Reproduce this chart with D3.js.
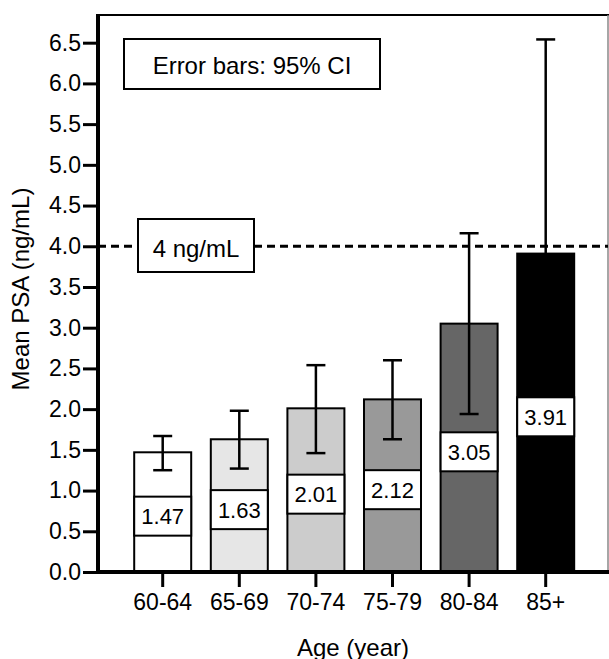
<!DOCTYPE html>
<html>
<head>
<meta charset="utf-8">
<script src="https://cdn.jsdelivr.net/npm/d3@7"></script>
<style>
  body { margin: 0; background: #fff; }
  text { font-family: "Liberation Sans", Arial, sans-serif; fill: #000; }
</style>
</head>
<body>
<script>
// age groups and the mean PSA per group
var categories = ["60-64", "65-69", "70-74", "75-79", "80-84", "85+"];
var means = [1.47, 1.63, 2.01, 2.12, 3.05, 3.91];
var ciLow = [1.25, 1.27, 1.46, 1.63, 1.94, 1.30];
var ciHigh = [1.67, 1.98, 2.54, 2.60, 4.16, 6.54];
var fills = ["#ffffff", "#e6e6e6", "#cccccc", "#999999", "#666666", "#000000"];
var yTicks = [0, 0.5, 1, 1.5, 2, 2.5, 3, 3.5, 4, 4.5, 5, 5.5, 6, 6.5];
var threshold = 4;

var width = 609,
  height = 659,
  plotLeft = 98,
  plotRight = 608,
  plotTop = 15,
  plotBottom = 572;

var svg = d3.select("body").append("svg")
  .attr("width", width)
  .attr("height", height);

var x = d3.scaleBand()
  .domain(categories)
  .range([124.4, 584])
  .paddingInner(0.256)
  .paddingOuter(0.128);

var y = d3.scaleLinear()
  .domain([0, 6.84])
  .range([plotBottom, plotTop]);

var data = categories.map(function(c, i) {
  return { cat: c, mean: means[i], lo: ciLow[i], hi: ciHigh[i], fill: fills[i] };
});

// frame (top + right)
svg.append("line")
  .attr("x1", plotLeft).attr("x2", width)
  .attr("y1", plotTop).attr("y2", plotTop)
  .attr("stroke", "#000").attr("stroke-width", 2);
svg.append("line")
  .attr("x1", plotRight).attr("x2", plotRight)
  .attr("y1", plotTop).attr("y2", plotBottom)
  .attr("stroke", "#888").attr("stroke-width", 1.5);

// bars
svg.selectAll(".bar")
  .data(data)
  .enter().append("rect")
  .attr("class", "bar")
  .attr("x", function(d) { return x(d.cat); })
  .attr("y", function(d) { return y(d.mean); })
  .attr("width", x.bandwidth())
  .attr("height", function(d) { return plotBottom - y(d.mean); })
  .attr("fill", function(d) { return d.fill; })
  .attr("stroke", "#000")
  .attr("stroke-width", 2);

// error bars
var eb = svg.selectAll(".err")
  .data(data)
  .enter().append("g")
  .attr("class", "err")
  .attr("transform", function(d) { return "translate(" + (x(d.cat) + x.bandwidth() / 2) + ",0)"; });

eb.append("line")
  .attr("y1", function(d) { return y(d.lo); })
  .attr("y2", function(d) { return y(d.hi); })
  .attr("stroke", "#000").attr("stroke-width", 2.5);
eb.selectAll(".cap")
  .data(function(d) { return [d.lo, d.hi]; })
  .enter().append("line")
  .attr("x1", -9.5).attr("x2", 9.5)
  .attr("y1", function(v) { return y(v); })
  .attr("y2", function(v) { return y(v); })
  .attr("stroke", "#000").attr("stroke-width", 2.5);

// 4 ng/mL reference line
svg.append("line")
  .attr("x1", plotLeft).attr("x2", plotRight)
  .attr("y1", y(threshold)).attr("y2", y(threshold))
  .attr("stroke", "#000")
  .attr("stroke-width", 3)
  .attr("stroke-dasharray", "8,5");

// value labels inside bars
var lab = svg.selectAll(".lab")
  .data(data)
  .enter().append("g")
  .attr("class", "lab")
  .attr("transform", function(d) { return "translate(" + x(d.cat) + "," + (y(d.mean / 2) + 4) + ")"; });

lab.append("rect")
  .attr("x", 0).attr("y", -19.5)
  .attr("width", x.bandwidth()).attr("height", 39)
  .attr("fill", "#fff")
  .attr("stroke", "#000").attr("stroke-width", 2);
lab.append("text")
  .attr("x", x.bandwidth() / 2)
  .attr("y", 8)
  .attr("text-anchor", "middle")
  .style("font-size", "22px")
  .text(function(d) { return d3.format(".2f")(d.mean); });

// boxes: legend note and threshold label
svg.append("rect")
  .attr("x", 124).attr("y", 39)
  .attr("width", 256).attr("height", 50)
  .attr("fill", "#fff").attr("stroke", "#000").attr("stroke-width", 2);
svg.append("text")
  .attr("x", 252).attr("y", 74)
  .attr("text-anchor", "middle")
  .style("font-size", "24px")
  .text("Error bars: 95% CI");

svg.append("rect")
  .attr("x", 138).attr("y", 219)
  .attr("width", 116).attr("height", 53)
  .attr("fill", "#fff").attr("stroke", "#000").attr("stroke-width", 2);
svg.append("text")
  .attr("x", 196).attr("y", 257)
  .attr("text-anchor", "middle")
  .style("font-size", "24px")
  .text("4 ng/mL");

// axes
var yAxis = svg.append("g")
  .attr("transform", "translate(" + plotLeft + ",0)")
  .call(d3.axisLeft(y).tickValues(yTicks).tickFormat(d3.format(".1f")).tickSize(15).tickPadding(2));
var xAxis = svg.append("g")
  .attr("transform", "translate(0," + plotBottom + ")")
  .call(d3.axisBottom(x).tickSize(15).tickPadding(7));

[yAxis, xAxis].forEach(function(a) {
  a.select(".domain").remove();
  a.selectAll(".tick line").attr("stroke", "#000").attr("stroke-width", 3);
  a.selectAll(".tick text").style("font-size", "23px").attr("fill", "#000")
    .style("font-family", "'Liberation Sans', Arial, sans-serif");
});

svg.append("line")
  .attr("x1", plotLeft).attr("x2", plotLeft)
  .attr("y1", plotTop - 1).attr("y2", plotBottom + 2)
  .attr("stroke", "#000").attr("stroke-width", 4);
svg.append("line")
  .attr("x1", plotLeft - 2).attr("x2", width)
  .attr("y1", plotBottom).attr("y2", plotBottom)
  .attr("stroke", "#000").attr("stroke-width", 4);

// axis titles
svg.append("text")
  .attr("transform", "translate(29,289) rotate(-90)")
  .attr("text-anchor", "middle")
  .style("font-size", "24px")
  .text("Mean PSA (ng/mL)");
svg.append("text")
  .attr("x", (plotLeft + plotRight) / 2)
  .attr("y", 656)
  .attr("text-anchor", "middle")
  .style("font-size", "24px")
  .text("Age (year)");
</script>
</body>
</html>
